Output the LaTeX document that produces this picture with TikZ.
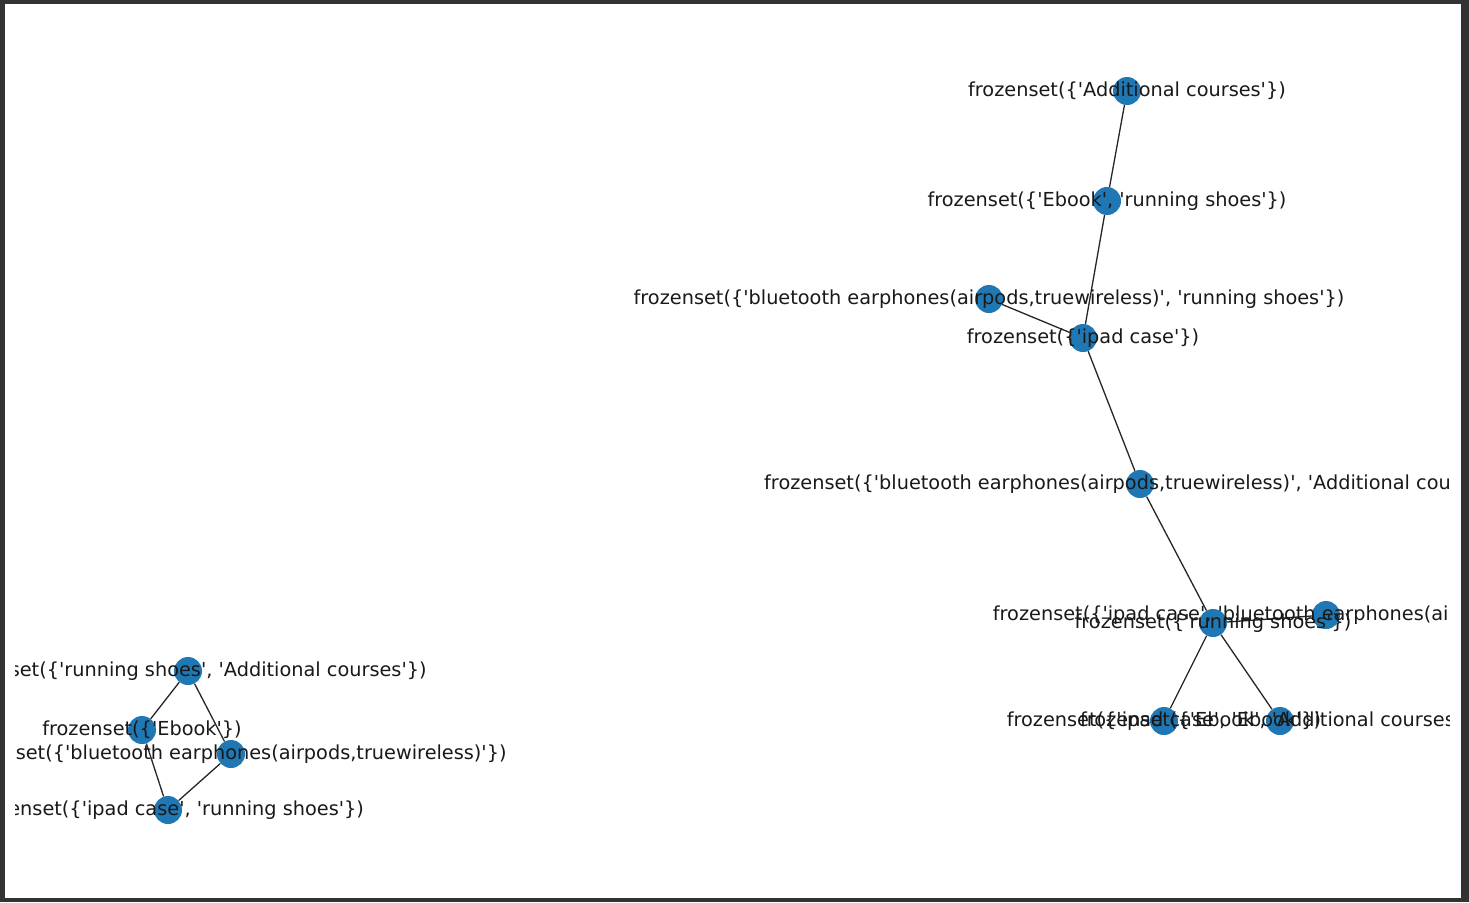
\documentclass[tikz,border=0pt]{standalone}
\usepackage{fontspec}
\setmainfont{DejaVu Sans}[Ligatures=TeXOff]
\usepackage{xcolor}
\usepackage{tikz}
\usetikzlibrary{positioning,calc}
\definecolor{nxblue}{HTML}{1F78B4}
\definecolor{framegray}{HTML}{333333}

\begin{document}
\begin{tikzpicture}[x=1pt, y=-1pt,
    vtx/.style={circle, fill=nxblue, minimum size=28pt, inner sep=0pt},
    lbl/.style={font=\fontsize{19.3}{19.3}\selectfont, text=black!90, inner sep=0pt},
    link/.style={draw=black!85, line width=1.3pt}
]
% frame of the figure
\fill[framegray] (0,0) rectangle (1469,902);
\fill[white] (5,4) rectangle (1461,898);
\useasboundingbox (0,0) rectangle (1469,902);

\begin{scope}
\clip (15,4) rectangle (1449,898);

% right component
\node[vtx] (ac)   at (1127,91)  {};
\node[vtx] (ebrs) at (1107,201) {};
\node[vtx] (btrs) at (989,299)  {};
\node[vtx] (ip)   at (1083,338) {};
\node[vtx] (btac) at (1140,484) {};
\node[vtx] (rs)   at (1213,623) {};
\node[vtx] (ipbt) at (1326,615) {};
\node[vtx] (ipeb) at (1164,721) {};
\node[vtx] (ebac) at (1280,721) {};

% left component
\node[vtx] (rsac) at (188,671)  {};
\node[vtx] (eb)   at (142,730)  {};
\node[vtx] (bt)   at (231,754)  {};
\node[vtx] (iprs) at (168,810)  {};

\draw[link] (ac) -- (ebrs);
\draw[link] (ebrs) -- (ip);
\draw[link] (btrs) -- (ip);
\draw[link] (ip) -- (btac);
\draw[link] (btac) -- (rs);
\draw[link] (rs) -- (ipbt);
\draw[link] (rs) -- (ipeb);
\draw[link] (rs) -- (ebac);
\draw[link] (rsac) -- (eb);
\draw[link] (rsac) -- (bt);
\draw[link] (eb) -- (iprs);
\draw[link] (bt) -- (iprs);

% labels on top
\node[lbl] (l-ac)   at (ac)   {frozenset(\{'Additional courses'\})};
\node[lbl] (l-ebrs) at (ebrs) {frozenset(\{'Ebook', 'running shoes'\})};
\node[lbl] (l-btrs) at (btrs) {frozenset(\{'bluetooth earphones(airpods,truewireless)', 'running shoes'\})};
\node[lbl] (l-ip)   at (ip)   {frozenset(\{'ipad case'\})};
\node[lbl] (l-btac) at (btac) {frozenset(\{'bluetooth earphones(airpods,truewireless)', 'Additional courses'\})};
\node[lbl] (l-rs)   at (rs)   {frozenset(\{'running shoes'\})};
\node[lbl] (l-ipbt) at (ipbt) {frozenset(\{'ipad case', 'bluetooth earphones(airpods,truewireless)'\})};
\node[lbl] (l-ipeb) at (ipeb) {frozenset(\{'ipad case', 'Ebook'\})};
\node[lbl] (l-ebac) at (ebac) {frozenset(\{'Ebook', 'Additional courses'\})};
\node[lbl] (l-rsac) at (rsac) {frozenset(\{'running shoes', 'Additional courses'\})};
\node[lbl] (l-eb)   at (eb)   {frozenset(\{'Ebook'\})};
\node[lbl] (l-bt)   at (bt)   {frozenset(\{'bluetooth earphones(airpods,truewireless)'\})};
\node[lbl] (l-iprs) at (iprs) {frozenset(\{'ipad case', 'running shoes'\})};
\end{scope}
\end{tikzpicture}
\end{document}
